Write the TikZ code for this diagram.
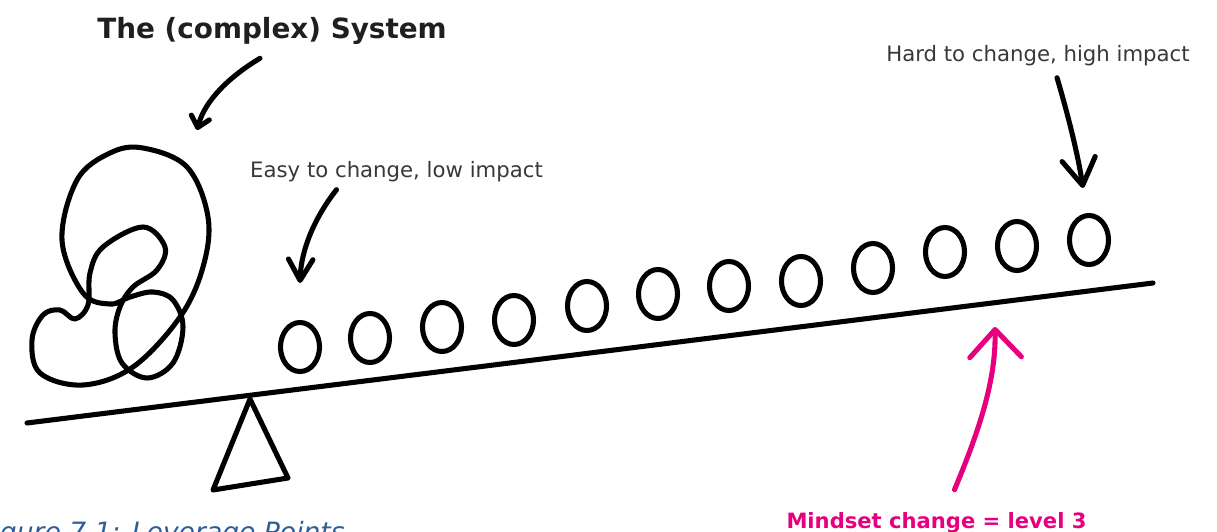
\documentclass[tikz,border=0pt]{standalone}
\usepackage{fontspec}
\setmainfont{DejaVu Sans}[ItalicFont={DejaVu Sans Oblique}, BoldFont={DejaVu Sans Bold}]
\usetikzlibrary{positioning, arrows.meta, shapes.geometric, calc}
\definecolor{inkpink}{HTML}{E6007E}
\definecolor{captionblue}{HTML}{2F5D96}
\definecolor{notegray}{HTML}{383838}

\begin{document}
\begin{tikzpicture}[
            x=0.025cm, y=-0.025cm,
            ink/.style={line width=3.6pt, line cap=round, line join=round},
            lever pt/.style={ellipse, draw, ink, minimum width=0.975cm,
                             minimum height=1.225cm, inner sep=0pt},
            note/.style={font=\fontsize{15.1}{18}\selectfont, text=notegray,
                         inner sep=0pt, anchor=base},
            heading/.style={font=\fontsize{19.8}{24}\selectfont\bfseries, text=black!88,
                            inner sep=0pt, anchor=base},
            mindset/.style={font=\fontsize{15}{18}\selectfont\bfseries, text=inkpink,
                            inner sep=0pt, anchor=base},
            caption/.style={font=\fontsize{18.9}{22}\selectfont\itshape, text=captionblue,
                            inner sep=0pt, anchor=base west},
        ]
            \useasboundingbox (0,0) rectangle (1217,532);

            % Lever and fulcrum
            \coordinate (beamL) at (27,423);
            \coordinate (beamR) at (1153,283);
            \coordinate (pivot) at (250,399);
            \draw[ink] (beamL) -- (beamR);
            \draw[ink] (pivot) -- (213,490) -- (288,478) -- cycle;

            % The tangled system on the short end
            \draw[ink] plot[smooth cycle, tension=0.6] coordinates {
                (143,148) (187,167) (208,217) (203,267) (180,317) (133,367)
                (83,385) (40,373) (32,340) (43,315) (60,310) (75,319) (88,305)
                (90,273) (103,247) (143,227) (165,247) (157,270) (133,287)
                (120,307) (115,333) (122,363) (147,378) (173,363) (183,327)
                (173,300) (153,292) (130,297) (110,304) (83,293) (62,240)
                (77,180) (110,153)};

            % Leverage points along the beam
            \foreach \px/\py [count=\i] in {300/347, 370/338, 442/327, 514/320,
                    587/306, 658/294, 729/286, 801/281, 873/268, 945/252,
                    1017/246, 1089/240}
                \node[lever pt] (p\i) at (\px,\py) {};

            % Labels
            \node[heading] (sys)  at (272,39)   {The (complex) System};
            \node[note]    (easy) at (396.5,177) {Easy to change, low impact};
            \node[note]    (hard) at (1038,62)  {Hard to change, high impact};
            \node[mindset] (lvl)  at (936.5,528) {Mindset change = level 3};
            \node[caption] (fig)  at (-23,541)  {Figure 7.1: Leverage Points};

            % Hand-drawn pointers
            \coordinate (sysTip) at (197,130);
            \coordinate (lvlTip) at (995,327);
            \draw[ink, -{Straight Barb[round, length=7.4pt, width=13.2pt]}]
                ($(sys.south)+(-12,13)$) .. controls +(-30,18) and +(8,-30) .. (sysTip);
            \draw[ink, -{Straight Barb[round, length=15pt, width=17.4pt]}]
                ($(easy.south)+(-60,8)$) .. controls +(-22,28) and +(1,-33) .. ($(p1.north)+(0,-37)$);
            \draw[ink, -{Straight Barb[round, length=19pt, width=23.8pt]}]
                ($(hard.south)+(19,11)$) .. controls +(11,37) and +(-5,-33) .. ($(p12.north)+(-6,-25)$);
            \draw[ink, inkpink, -{Straight Barb[round, length=19.7pt, width=36.7pt]}]
                ($(lvl.north)+(18,-22)$) .. controls +(25,-60) and +(1,53) .. (lvlTip);
        \end{tikzpicture}
\end{document}
